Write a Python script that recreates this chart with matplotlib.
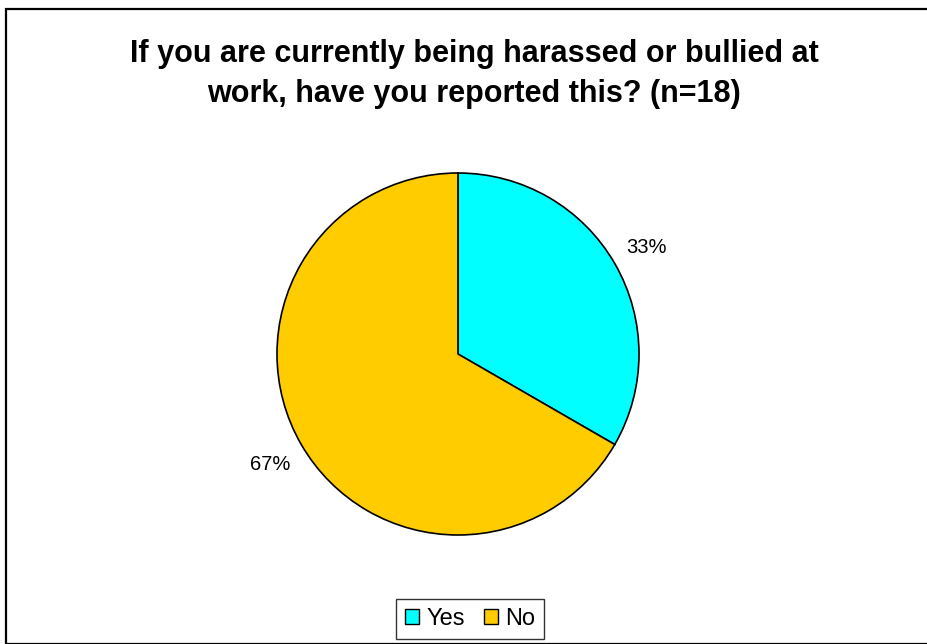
import matplotlib
matplotlib.use("Agg")
import matplotlib.pyplot as plt
from matplotlib.patches import Rectangle, Patch
import numpy as np

plt.rcParams['font.family'] = ['Liberation Sans', 'DejaVu Sans']

categories = ["Yes", "No"]
counts = [6, 12]
colors = ["#00FFFF", "#FFCC00"]
pct_labels = ["33%", "67%"]

fig = plt.figure(figsize=(9.28, 6.44), dpi=100)

# outer chart frame
fig.patches.append(Rectangle((6 / 928, 0), 1.0, 1 - 9 / 644, transform=fig.transFigure,
                             fill=False, edgecolor="black", linewidth=1.6))

fig.text(474 / 928, 1 - 62 / 644, "If you are currently being harassed or bullied at",
         ha="center", va="baseline", fontsize=22, fontweight="bold")
fig.text(474 / 928, 1 - 102 / 644, "work, have you reported this? (n=18)",
         ha="center", va="baseline", fontsize=22, fontweight="bold")

r = 181
ax = fig.add_axes([(458 - r) / 928, (644 - 354 - r) / 644, 2 * r / 928, 2 * r / 644])
wedges, _ = ax.pie(counts, colors=colors, startangle=90, counterclock=False,
                   wedgeprops=dict(edgecolor="black", linewidth=1.2))
ax.set_xlim(-1, 1)
ax.set_ylim(-1, 1)
ax.set_aspect("equal")

# percentage labels outside each slice
total = sum(counts)
angle = 90.0
for c, lab in zip(counts, pct_labels):
    span = 360.0 * c / total
    mid = np.deg2rad(angle - span / 2)
    angle -= span
    ax.text(1.2 * np.cos(mid), 1.2 * np.sin(mid) - 0.042, lab, ha="center", va="baseline",
            fontsize=14.5)

handles = [Patch(facecolor=col, edgecolor="black", linewidth=1.0) for col in colors]
leg = fig.legend(handles, categories, loc="center", bbox_to_anchor=(470 / 928, 1 - 619 / 644),
                 ncol=2, fontsize=17, frameon=True, fancybox=False, edgecolor="black",
                 handlelength=0.6, handleheight=0.6, handletextpad=0.3, columnspacing=0.8,
                 borderpad=0.4)
leg.get_frame().set_linewidth(1.0)

fig.savefig("out.png", dpi=100)
